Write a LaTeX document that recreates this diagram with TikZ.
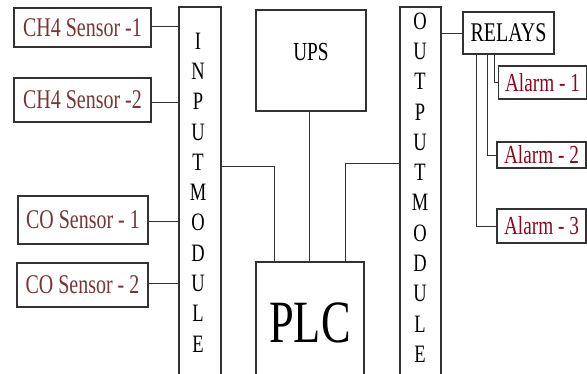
\documentclass[tikz,border=0pt]{standalone}
\usepackage{fontspec}
\setmainfont{Liberation Serif}
\newfontfamily\condserif{Liberation Serif}[FakeStretch=0.74]
\usepackage{xcolor}
\definecolor{sensortext}{RGB}{122,52,52}
\definecolor{alarmtext}{RGB}{140,8,32}
\definecolor{boxline}{RGB}{50,50,50}
\usepackage{tikz}
\usetikzlibrary{
  positioning,
  calc
}
\tikzset{
  sensorbox/.style={draw=boxline, line width=1.2pt,
    minimum width=131pt, minimum height=44pt, inner sep=0pt,
    align=center, text=sensortext, font=\condserif\fontsize{27}{30}\selectfont},
  alarmbox/.style={draw=boxline, line width=1.2pt,
    minimum width=88pt, minimum height=30pt, inner sep=0pt,
    align=center, text=alarmtext, font=\condserif\fontsize{26}{30}\selectfont},
  modbox/.style={draw=boxline, line width=1.2pt,
    minimum width=42pt, minimum height=374pt, inner sep=0pt},
  unitbox/.style={draw=boxline, line width=1.2pt, inner sep=0pt,
    align=center, font=\condserif\fontsize{26}{30}\selectfont},
  coltext/.style={align=center, inner sep=0pt,
    font=\condserif\fontsize{25}{30.3}\selectfont},
  wire/.style={draw=black!80, line width=0.9pt},
}

\begin{document}
\begin{tikzpicture}[x=1pt, y=-1pt]
  \clip (0,0) rectangle (587,373);
  \useasboundingbox (0,0) rectangle (587,373);

  % Sensors
  \node[sensorbox, minimum width=137pt, minimum height=39pt] (ch4a) at (82.5,27.5) {CH4 Sensor -1};
  \node[sensorbox, minimum width=137pt] (ch4b) at (82.5,100) {CH4 Sensor -2};
  \node[sensorbox, minimum width=130pt, minimum height=48pt] (coa) at (83,220) {CO Sensor - 1};
  \node[sensorbox] (cob) at (82.5,285) {CO Sensor - 2};

  % Modules
  \node[modbox] (inmod) at (200,194) {};
  \node[coltext] (intext) at (198,192.5) {I\\N\\P\\U\\T\\M\\O\\D\\U\\L\\E};
  \node[modbox, minimum width=41pt] (outmod) at (420.5,194) {};
  \node[coltext] (outtext) at (420,187.5) {O\\U\\T\\P\\U\\T\\M\\O\\D\\U\\L\\E};

  % UPS and PLC
  \node[unitbox, minimum width=110pt, minimum height=101pt,
    text depth=17pt] (ups) at (311,60.5) {UPS};
  \node[unitbox, minimum width=108pt, minimum height=122pt,
    font=\condserif\fontsize{60}{60}\selectfont] (plc) at (310,323) {PLC};

  % Relays and alarms
  \node[unitbox, minimum width=91pt, minimum height=42pt,
    font=\condserif\fontsize{27}{30}\selectfont] (relays) at (508.5,33) {RELAYS};
  \node[alarmbox, minimum height=33pt] (al1) at (542.5,82.5) {Alarm - 1};
  \node[alarmbox, minimum width=89pt, minimum height=26pt] (al2) at (541.5,155) {Alarm - 2};
  \node[alarmbox, minimum width=89pt, minimum height=34pt] (al3) at (541.5,226) {Alarm - 3};

  % Sensor wires
  \draw[wire] (ch4a.east |- 0,26) -- (inmod.west |- 0,26);
  \draw[wire] (ch4b.east |- 0,102) -- (inmod.west |- 0,102);
  \draw[wire] (coa.east |- 0,221) -- (inmod.west |- 0,221);
  \draw[wire] (cob.east |- 0,283) -- (inmod.west |- 0,283);

  % Links to PLC
  \draw[wire] (inmod.east |- 0,166) -| ([xshift=-36pt]plc.north);
  \draw[wire] ([xshift=-2pt]ups.south) -- ([xshift=-1pt]plc.north);
  \draw[wire] (outmod.west |- 0,163) -| ([xshift=35pt]plc.north);

  % Output side
  \draw[wire] (outmod.east |- relays.west) -- (relays.west);
  \draw[wire] ([xshift=-14.5pt]relays.south) |- (al1.west);
  \draw[wire] ([xshift=-21.5pt]relays.south) |- (al2.west);
  \draw[wire] ([xshift=-32.5pt]relays.south) |- (al3.west);
\end{tikzpicture}
\end{document}
